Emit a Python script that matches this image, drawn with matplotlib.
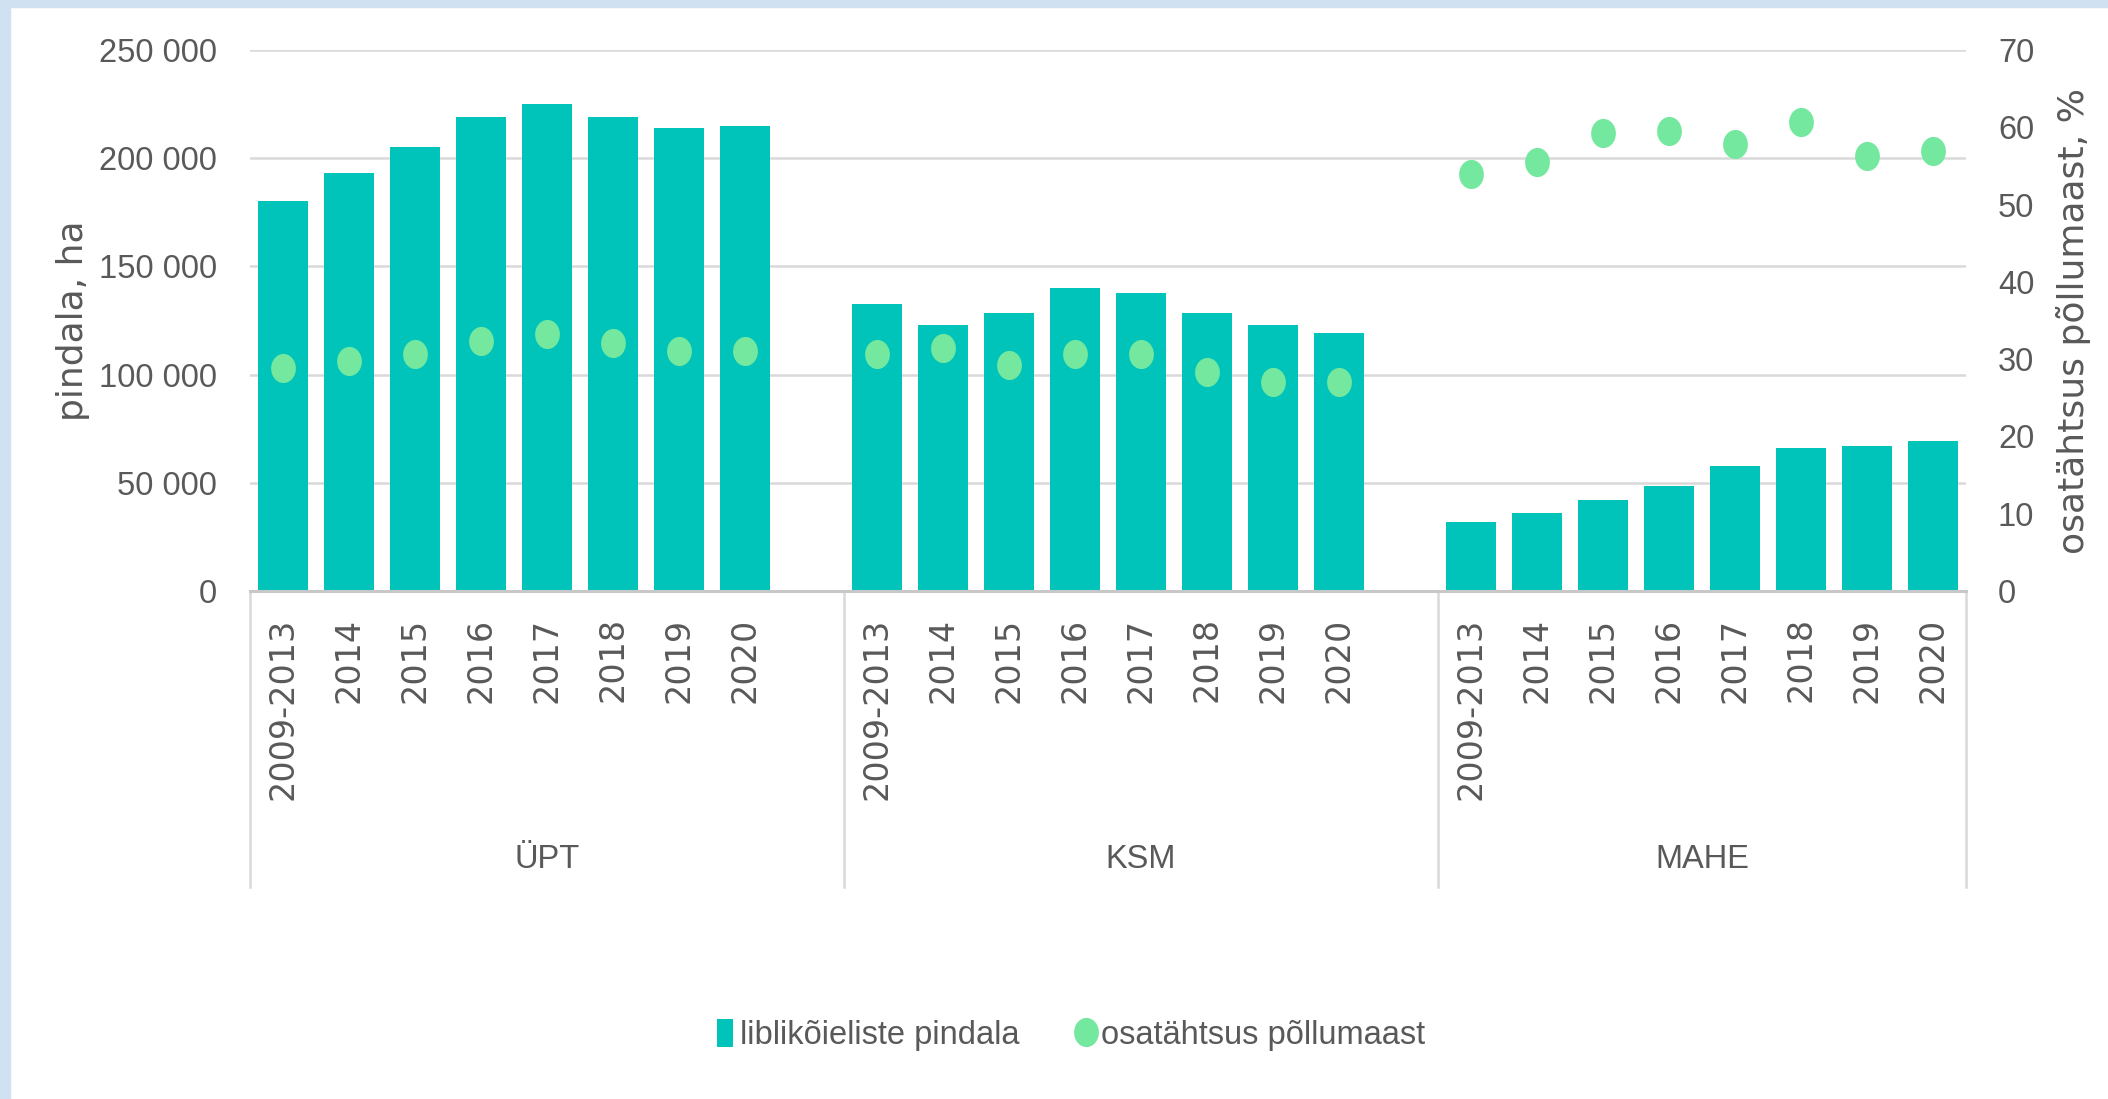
import numpy as np
import matplotlib
matplotlib.use("Agg")
import matplotlib.pyplot as plt
from matplotlib import font_manager
from matplotlib.patches import Patch, Rectangle
from matplotlib.lines import Line2D
from matplotlib.ticker import FuncFormatter
import matplotlib.transforms as mtrans

years = ["2009-2013", "2014", "2015", "2016", "2017", "2018", "2019", "2020"]
groups = ["ÜPT", "KSM", "MAHE"]

upt_area = [180000, 193000, 205000, 219000, 225000, 219000, 214000, 215000]
ksm_area = [132500, 123000, 128500, 140000, 137500, 128500, 123000, 119000]
mahe_area = [31700, 36000, 42000, 48300, 57600, 66000, 67100, 69100]

upt_share = [28.9, 29.8, 30.7, 32.4, 33.3, 32.1, 31.0, 31.0]
ksm_share = [30.7, 31.5, 29.2, 30.7, 30.7, 28.3, 27.1, 27.1]
mahe_share = [53.9, 55.5, 59.2, 59.5, 57.8, 60.7, 56.3, 56.9]

bar_color = "#00c4b9"
dot_color = "#73e89e"
text_color = "#595959"
grid_color = "#d9d9d9"

names = {f.name for f in font_manager.fontManager.ttflist}
narrow = "Liberation Sans Narrow" if "Liberation Sans Narrow" in names else "Liberation Sans"
nsize = 26 if narrow == "Liberation Sans Narrow" else 23.5

# ellipse marker, the original picture is a bit stretched vertically
t = np.linspace(0, 2 * np.pi, 40)
ell = list(zip(0.85 * np.cos(t), np.sin(t)))

fig = plt.figure(figsize=(21.08, 10.99), dpi=100)
ax = fig.add_axes([250 / 2108, 1 - 591 / 1099, 1716 / 2108, 541 / 1099])
ax2 = ax.twinx()

# 8 years per group, one empty slot between groups
xpos = [np.arange(8), np.arange(9, 17), np.arange(18, 26)]
areas = [upt_area, ksm_area, mahe_area]
shares = [upt_share, ksm_share, mahe_share]

for x, a, s in zip(xpos, areas, shares):
    ax.bar(x, a, width=0.77, color=bar_color, zorder=2)
    ax2.plot(x, s, linestyle="none", marker=ell, markersize=21,
             color=dot_color, markeredgewidth=0, zorder=3)

ax.set_xlim(-0.5, 25.5)
ax.set_ylim(0, 250000)
ax2.set_ylim(0, 70)
ax.set_yticks(np.arange(0, 250001, 50000))
ax2.set_yticks(np.arange(0, 71, 10))
ax.yaxis.set_major_formatter(FuncFormatter(lambda v, p: f"{int(v):,}".replace(",", " ")))

ax.set_axisbelow(True)
ax.grid(axis="y", color=grid_color, linewidth=1.8)
for a in (ax, ax2):
    for sp in a.spines.values():
        sp.set_visible(False)
ax.spines["bottom"].set_visible(True)
ax.spines["bottom"].set_color("#c8c8c8")
ax.spines["bottom"].set_linewidth(2.2)

ax.tick_params(axis="y", length=0, pad=24, labelsize=nsize, labelcolor=text_color)
ax2.tick_params(axis="y", length=0, pad=23, labelsize=nsize, labelcolor=text_color)
for lab in ax.get_yticklabels() + ax2.get_yticklabels():
    lab.set_fontfamily(narrow)

ax.set_xticks(np.concatenate(xpos))
ax.set_xticklabels(years * 3, rotation=90, fontsize=24, color=text_color,
                   family="DejaVu Sans")
ax.tick_params(axis="x", length=0, pad=19)

trans = mtrans.blended_transform_factory(ax.transData, ax.transAxes)
for xs in [-0.5, 8.5, 17.5, 25.5]:
    ax.plot([xs, xs], [0, -0.547], transform=trans, color=grid_color,
            linewidth=1.8, clip_on=False)
for g, xc in zip(groups, [4, 13, 21.5]):
    ax.text(xc, -0.497, g, transform=trans, ha="center", va="center",
            fontsize=nsize, color=text_color, family=narrow)

ax.set_ylabel("pindala, ha", fontsize=26, color=text_color, family="DejaVu Sans")
ax.yaxis.set_label_coords(-0.093, 0.5)
ax2.set_ylabel("osatähtsus põllumaast, %", fontsize=26, color=text_color,
               family="DejaVu Sans", rotation=90)
ax2.yaxis.set_label_coords(1.0524, 0.5)

handles = [Patch(facecolor=bar_color, edgecolor="none"),
           Line2D([], [], linestyle="none", marker=ell, markersize=21,
                  color=dot_color, markeredgewidth=0)]
fig.legend(handles, ["liblikõieliste pindala", "osatähtsus põllumaast"],
           loc="center", bbox_to_anchor=(0.508, 0.058), ncol=2, frameon=False,
           handlelength=0.5, handleheight=0.95, handletextpad=0.2,
           columnspacing=1.8, prop={"family": narrow, "size": nsize},
           labelcolor=text_color)

# light blue frame on top and left edge
fig.patches.append(Rectangle((0, 1 - 7 / 1099), 1, 7 / 1099, transform=fig.transFigure,
                             color="#d0e1f2", zorder=0))
fig.patches.append(Rectangle((0, 0), 10 / 2108, 1, transform=fig.transFigure,
                             color="#d0e1f2", zorder=0))

fig.savefig("out.png", dpi=100)
